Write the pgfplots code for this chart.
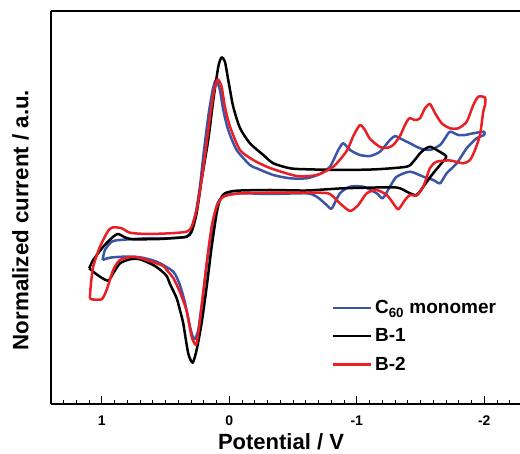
\documentclass[border=0pt]{standalone}
\usepackage{pgfplots}
\pgfplotsset{compat=1.18}
\usepackage{fontspec}
\setmainfont{Liberation Sans}
\definecolor{cblue}{RGB}{59,84,166}
\definecolor{cred}{RGB}{234,30,37}
\begin{document}
\begin{tikzpicture}
\begin{axis}[
  at={(0pt,0pt)}, anchor=south west,
  scale only axis, width=469pt, height=393pt,
  x dir=reverse, xmin=-2.28, xmax=1.398, ymin=0, ymax=393,
  axis x line*=bottom, axis y line*=left,
  axis line style={line width=1.1pt, black},
  xtick={1,0,-1,-2}, xticklabels={1,0,-1,-2},
  minor xtick={-2.2,-2.1,...,1.35},
  ytick=\empty,
  xtick align=inside,
  major tick length=8pt, minor tick length=3.5pt,
  every tick/.style={line width=0.9pt, black},
  xticklabel style={font=\fontsize{14}{16}\selectfont\bfseries, inner sep=0pt, yshift=-12pt},
  clip=false,
  legend style={draw=none, fill=none, at={(axis description cs:0.599,0.27)}, anchor=north west,
    font=\fontsize{19}{21}\selectfont\bfseries, row sep=8.5pt, inner sep=0pt, nodes={inner sep=2.5pt}},
  legend cell align=left,
  legend image code/.code={\draw[#1] (0pt,0pt) -- (38pt,0pt);},
  every axis plot/.append style={smooth, tension=0.4, line width=2.5pt, line join=round},
]
\addplot[cblue] coordinates {
(0.993,144) (0.975,154) (0.922,162.3) (0.857,164) (0.648,165.7) (0.465,165.7) (0.334,167.3)
(0.295,174) (0.261,192.3) (0.230,217.3) (0.204,247.3) (0.165,287.3) (0.130,314) (0.104,324)
(0.073,314) (0.047,294) (0.008,274) (-0.058,254) (-0.162,239) (-0.215,235.7) (-0.345,229)
(-0.476,225.7) (-0.607,225.7) (-0.711,230) (-0.790,237.3) (-0.855,254) (-0.894,260.7)
(-0.947,254) (-1.025,249) (-1.104,248) (-1.182,252.3) (-1.260,264) (-1.300,268) (-1.339,265.7)
(-1.417,260.7) (-1.496,255.7) (-1.574,254) (-1.653,259) (-1.692,265.7) (-1.731,272.3)
(-1.796,269) (-1.849,269) (-1.914,270.7) (-1.998,272.3)
(-1.998,269) (-1.940,265.7) (-1.862,255.7) (-1.784,240.7) (-1.705,230.7) (-1.653,220.7)
(-1.600,224) (-1.522,227.3) (-1.417,232.3) (-1.313,227.3) (-1.260,217.3) (-1.203,205.7)
(-1.156,210.7) (-1.051,217.3) (-0.947,217.3) (-0.868,210.7) (-0.803,195.5) (-0.764,199)
(-0.686,207.3) (-0.607,210.7) (-0.319,210) (-0.110,210.7) (0.020,209) (0.086,202.3)
(0.125,184) (0.165,150.7) (0.204,110.7) (0.243,74) (0.277,64.7) (0.308,77.3) (0.347,101)
(0.387,119) (0.439,132.3) (0.569,142.3) (0.700,146.7) (0.831,147.3) (0.936,146.3) (0.993,144)
};
\addlegendentry{C\textsubscript{60} monomer}
\addplot[black] coordinates {
(1.098,135.7) (1.067,144) (0.988,157.3) (0.910,167.3) (0.871,170) (0.818,166.7) (0.753,164.7)
(0.544,165) (0.465,165.7) (0.334,167.3) (0.295,172.3) (0.256,190.7) (0.217,224) (0.165,264)
(0.125,304) (0.086,337.3) (0.060,346.7) (0.034,342.3) (0.008,324) (-0.031,297.3) (-0.084,276)
(-0.162,260.7) (-0.267,249) (-0.345,240.7) (-0.476,235.7) (-0.607,234.7) (-0.894,234)
(-1.156,234.7) (-1.391,237.3) (-1.443,242.3) (-1.496,250.7) (-1.535,255) (-1.574,257.3)
(-1.627,254) (-1.692,249) (-1.700,246.3)
(-1.653,239) (-1.588,229) (-1.522,217.3) (-1.470,209) (-1.417,210.7) (-1.339,215.7)
(-1.260,216.7) (-0.894,215.7) (-0.607,213.5) (-0.319,214) (-0.058,213.3) (0.034,210.7)
(0.073,204) (0.099,190.7) (0.138,157.3) (0.177,117.3) (0.217,80.7) (0.256,54) (0.287,41.3)
(0.322,50.7) (0.361,80.7) (0.387,94) (0.413,106) (0.465,120) (0.491,128) (0.544,134.5)
(0.596,139) (0.700,144.7) (0.779,144.7) (0.857,140.7) (0.910,130.7) (0.949,123.3)
(1.014,127.3) (1.067,132.3) (1.098,135.7)
};
\addlegendentry{B-1}
\addplot[cred] coordinates {
(1.093,106) (1.087,117.3) (1.067,137.3) (1.014,157.3) (0.949,173.3) (0.910,176.7) (0.844,175.7)
(0.779,171.3) (0.648,170) (0.465,170.7) (0.334,172.3) (0.295,177.3) (0.256,194) (0.238,207)
(0.217,224) (0.191,247.3) (0.151,287.3) (0.118,314) (0.091,324.7) (0.060,317.3) (0.034,297.3)
(-0.006,277.3) (-0.084,254) (-0.188,244) (-0.319,236) (-0.529,228) (-0.686,229) (-0.816,237.3)
(-0.921,253) (-0.973,268) (-1.025,279) (-1.064,274) (-1.104,265) (-1.182,257) (-1.237,256)
(-1.286,259) (-1.339,268) (-1.378,279) (-1.412,285.7) (-1.457,284) (-1.496,285.7)
(-1.535,295.7) (-1.574,300) (-1.613,291) (-1.666,280.7) (-1.731,275.7) (-1.796,275.7)
(-1.862,282.3) (-1.914,299) (-1.953,307.3) (-2.006,306.5)
(-2.006,299) (-1.992,292.3) (-1.966,269) (-1.927,254) (-1.888,244) (-1.835,240.7)
(-1.731,243.5) (-1.627,242.3) (-1.574,236) (-1.522,217.3) (-1.470,208.5) (-1.417,209)
(-1.378,204) (-1.326,194.7) (-1.286,200.7) (-1.235,209) (-1.156,214) (-1.078,210.7)
(-1.012,199) (-0.947,193) (-0.868,200.7) (-0.790,210) (-0.711,211.3) (-0.607,211.3)
(-0.345,211.3) (-0.084,210.7) (0.047,207.3) (0.099,197.3) (0.138,177.3) (0.177,140.7)
(0.217,97.3) (0.243,70.7) (0.261,59) (0.295,67.3) (0.334,93) (0.387,112) (0.439,126)
(0.491,134) (0.518,138) (0.648,144) (0.753,147.3) (0.857,144) (0.910,134) (0.962,114)
(1.001,104.7) (1.079,104.7) (1.093,106)
};
\addlegendentry{B-2}
\draw[line width=1.1pt, black] (rel axis cs:0,1) -- (rel axis cs:1,1);
\end{axis}
\node[rotate=90, anchor=base, font=\fontsize{22.3}{24}\selectfont\bfseries, inner sep=0pt] at (-22.7pt,184pt) {Normalized current / a.u.};
\node[anchor=base, font=\fontsize{22}{24}\selectfont\bfseries, inner sep=0pt] at (230pt,-45.5pt) {Potential / V};
\pgfresetboundingbox
\useasboundingbox (-51pt,-50pt) rectangle (469pt,404pt);
\end{tikzpicture}
\end{document}
